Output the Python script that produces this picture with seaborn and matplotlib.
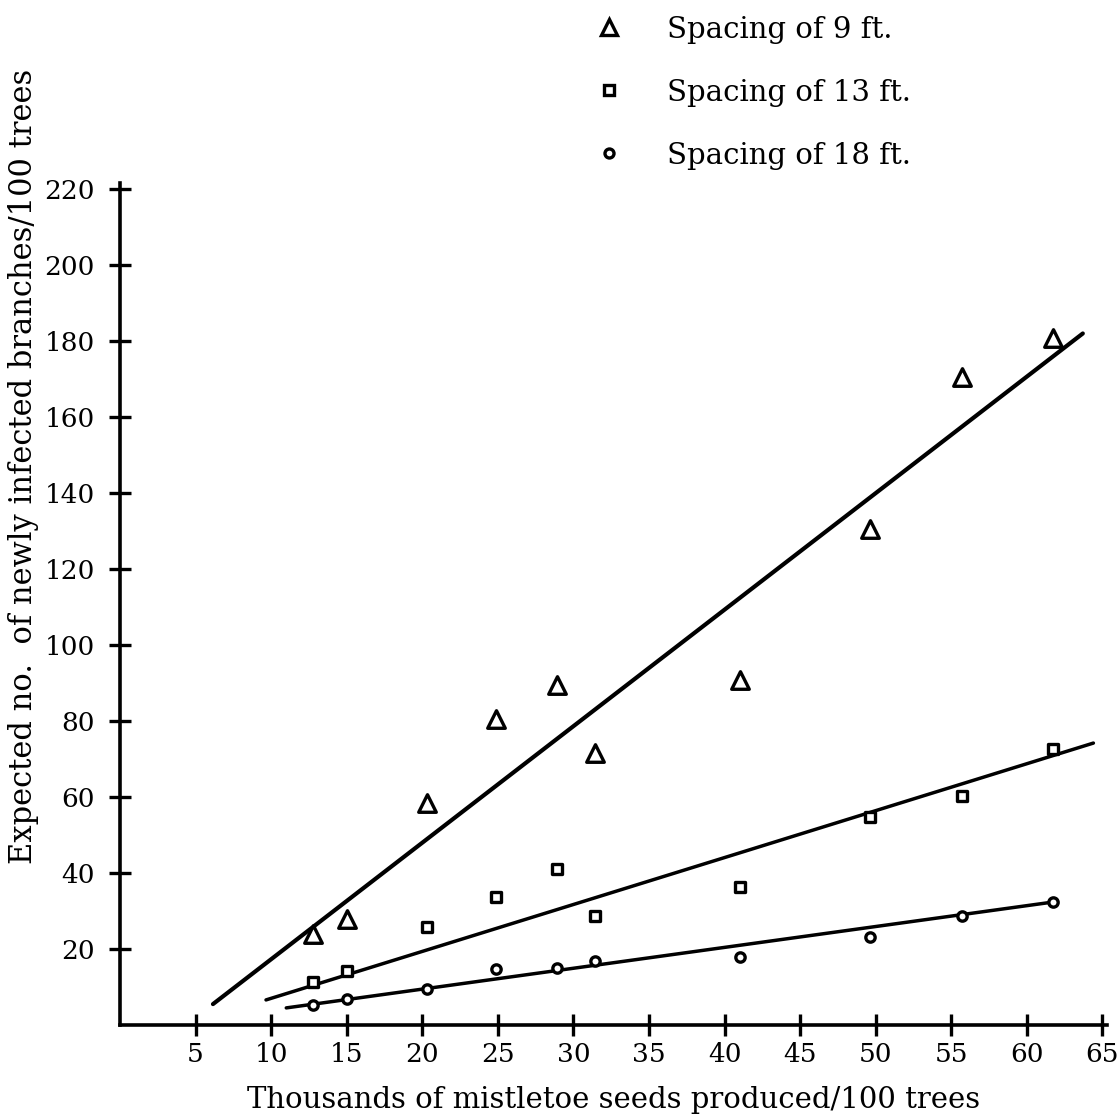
import matplotlib
matplotlib.use("Agg")
import matplotlib.pyplot as plt
import seaborn as sns
from matplotlib.lines import Line2D

# ---- data ----
seeds = [12.8, 15.0, 20.3, 24.9, 28.9, 31.4, 41.0, 49.6, 55.7, 61.7]
spacing_9 = [24, 28, 58.5, 80.5, 89.5, 71.5, 90.8, 130.5, 170.5, 180.8]
spacing_13 = [11.3, 14.2, 25.8, 33.7, 41, 28.7, 36.3, 54.7, 60.3, 72.6]
spacing_18 = [5.3, 6.8, 9.5, 14.7, 15.0, 16.8, 17.9, 23.2, 28.7, 32.4]

# fitted regression lines (start / end points)
fit_9_x = [6.15, 63.7]
fit_9_y = [5.5, 182.0]
fit_13_x = [9.66, 64.4]
fit_13_y = [6.6, 74.2]
fit_18_x = [11.0, 61.8]
fit_18_y = [4.5, 32.4]

labels = ["Spacing of 9 ft.", "Spacing of 13 ft.", "Spacing of 18 ft."]
x_ticks = [5, 10, 15, 20, 25, 30, 35, 40, 45, 50, 55, 60, 65]
y_ticks = [20, 40, 60, 80, 100, 120, 140, 160, 180, 200, 220]

sns.set_theme(style="white")
plt.rcParams["font.family"] = ["DejaVu Serif", "DejaVu Sans"]
plt.rcParams["text.color"] = "black"
plt.rcParams["axes.labelcolor"] = "black"

fig = plt.figure(figsize=(11.2, 11.17), dpi=100)
ax = fig.add_axes([120 / 1120, 92 / 1117, 987 / 1120, 842 / 1117])

series = [
    (spacing_9, fit_9_x, fit_9_y, "^", 160, 3.0),
    (spacing_13, fit_13_x, fit_13_y, "s", 55, 2.5),
    (spacing_18, fit_18_x, fit_18_y, "o", 45, 2.5),
]

for vals, fx, fy, mk, size, lw in series:
    sns.lineplot(x=fx, y=fy, ax=ax, color="black", linewidth=lw, zorder=2)
    sns.scatterplot(x=seeds, y=vals, ax=ax, marker=mk, s=size, color="white",
                    edgecolor="black", linewidth=2.4, zorder=3)

ax.set_xlim(0, 65.3)
ax.set_ylim(0, 221.6)
ax.set_xticks(x_ticks)
ax.set_yticks(y_ticks)
ax.tick_params(axis="both", bottom=True, left=True, direction="inout",
               length=16, width=2.4, color="black", labelcolor="black",
               labelsize=19)
ax.tick_params(axis="x", pad=4)
ax.tick_params(axis="y", pad=10)

for s in ["top", "right"]:
    ax.spines[s].set_visible(False)
for s in ["left", "bottom"]:
    ax.spines[s].set_linewidth(2.6)
    ax.spines[s].set_color("black")

ax.set_xlabel("Thousands of mistletoe seeds produced/100 trees", fontsize=21,
              labelpad=14, color="black")
ax.set_ylabel("Expected no.  of newly infected branches/100 trees", fontsize=22,
              color="black")
ax.yaxis.set_label_coords(-0.082, 0.663)

handles = [
    Line2D([], [], linestyle="none", marker="^", markersize=12,
           markerfacecolor="white", markeredgecolor="black", markeredgewidth=2.4),
    Line2D([], [], linestyle="none", marker="s", markersize=7,
           markerfacecolor="white", markeredgecolor="black", markeredgewidth=2.4),
    Line2D([], [], linestyle="none", marker="o", markersize=6.5,
           markerfacecolor="white", markeredgecolor="black", markeredgewidth=2.4),
]
leg = fig.legend(handles, labels, loc="upper left",
                 bbox_to_anchor=(568 / 1120, 1 - 4 / 1117),
                 frameon=False, fontsize=21, labelspacing=1.2,
                 handletextpad=1.0, borderaxespad=0)
for t in leg.get_texts():
    t.set_color("black")

fig.savefig("out.png", dpi=100, facecolor="white")
